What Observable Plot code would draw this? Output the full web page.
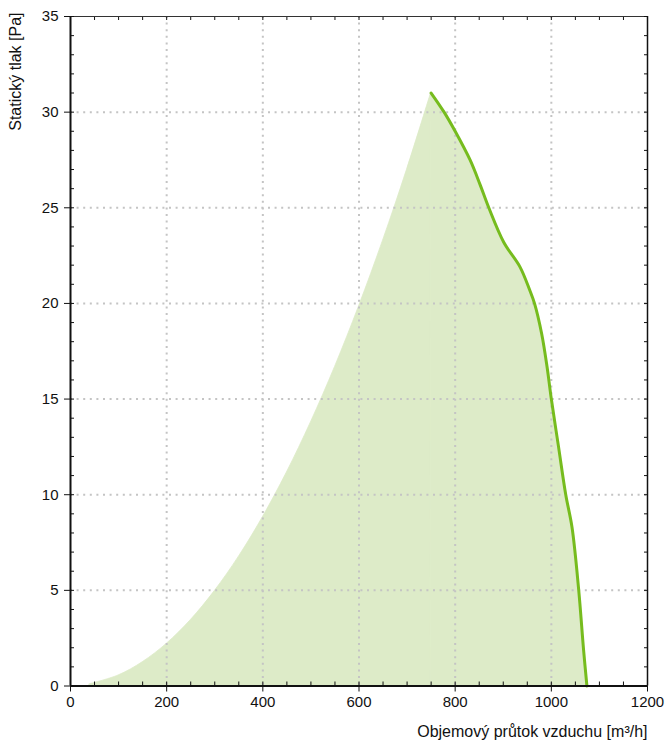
<!DOCTYPE html>
<html>
<head>
<meta charset="utf-8">
<script src="https://cdn.jsdelivr.net/npm/d3@7"></script>
<script src="https://cdn.jsdelivr.net/npm/@observablehq/plot@0.6"></script>
<style>
  html, body { margin: 0; padding: 0; background: #fff; }
</style>
</head>
<body>
<div id="chart"></div>
<script>
// Axis ticks
const xTicks = [0, 200, 400, 600, 800, 1000, 1200];
const yTicks = [0, 5, 10, 15, 20, 25, 30, 35];
const xGrid = [200, 400, 600, 800, 1000];
const yGrid = [5, 10, 15, 20, 25, 30];
const xMinor = [0,50,100,150,200,250,300,350,400,450,500,550,600,650,700,750,800,850,900,950,1000,1050,1100,1150,1200];
const yMinor = [0,1,2,3,4,5,6,7,8,9,10,11,12,13,14,15,16,17,18,19,20,21,22,23,24,25,26,27,28,29,30,31,32,33,34,35];

// Axis titles
const xTitle = "Objemový průtok vzduchu [m³/h]";
const yTitle = "Statický tlak [Pa]";

// System curve (left edge of the shaded working area)
const sysFlow     = [40, 100, 150, 200, 250, 300, 350, 400, 450, 500, 550, 600, 650, 700, 750];
const sysPressure = [0.09, 0.55, 1.24, 2.2, 3.44, 4.96, 6.75, 8.82, 11.16, 13.78, 16.67, 19.84, 23.28, 27.0, 31.0];

// Fan curve (green line)
const fanFlow     = [750, 777, 800, 831, 852, 870, 901, 935, 955, 965, 980, 991, 1000, 1015, 1030, 1043, 1057, 1067, 1074];
const fanPressure = [31.0, 30.0, 29.0, 27.5, 26.2, 25.0, 23.2, 21.9, 20.7, 20.0, 18.4, 16.7, 15.0, 12.5, 10.0, 8.3, 5.0, 1.9, 0];

const sys = sysFlow.map((x, i) => ({x, y: sysPressure[i]}));
const fan = fanFlow.map((x, i) => ({x, y: fanPressure[i]}));

const fillColor = "#ddebc8";
const lineColor = "#76bc1e";
const gridStyle = {stroke: "#c4c4c4", strokeWidth: 2, strokeDasharray: "2,4.6"};

const chart = Plot.plot({
  width: 665,
  height: 742,
  marginLeft: 70,
  marginRight: 18,
  marginTop: 16,
  marginBottom: 56.5,
  style: {fontFamily: "'Liberation Sans', Arial, sans-serif", fontSize: "15px", color: "#111", background: "#fff"},
  x: {domain: [0, 1200]},
  y: {domain: [0, 35]},
  marks: [
    Plot.areaY(sys, {x: "x", y: "y", fill: fillColor, stroke: fillColor, strokeWidth: 0.8, curve: "catmull-rom"}),
    Plot.areaY(fan, {x: "x", y: "y", fill: fillColor, stroke: fillColor, strokeWidth: 0.8, curve: "catmull-rom"}),
    Plot.ruleX(xGrid, gridStyle),
    Plot.ruleY(yGrid, gridStyle),
    Plot.line(fan, {x: "x", y: "y", stroke: lineColor, strokeWidth: 3, curve: "catmull-rom"}),
    // frame
    Plot.ruleX([0], {stroke: "#111", strokeWidth: 2}),
    Plot.ruleY([0], {stroke: "#111", strokeWidth: 2}),
    Plot.ruleX([1200], {stroke: "#111", strokeWidth: 1.5}),
    Plot.ruleY([35], {stroke: "#333", strokeWidth: 1}),
    // minor ticks pointing inward
    Plot.axisX({anchor: "bottom", ticks: xMinor, tickSize: 4, dy: -4, text: null, label: null, stroke: "#111"}),
    Plot.axisX({anchor: "top", ticks: xMinor, tickSize: 3, dy: 3, text: null, label: null, stroke: "#111"}),
    Plot.axisY({anchor: "left", ticks: yMinor, tickSize: 4, dx: 4, text: null, label: null, stroke: "#111"}),
    Plot.axisY({anchor: "right", ticks: yMinor, tickSize: 4, dx: -4, text: null, label: null, stroke: "#111"}),
    // major ticks + labels
    Plot.axisX({anchor: "bottom", ticks: xTicks, tickSize: 6, tickPadding: 4, tickFormat: d => String(d),
      label: null, stroke: "#111", fill: "#111"}),
    Plot.axisY({anchor: "left", ticks: yTicks, tickSize: 6, tickPadding: 6, tickFormat: d => String(d),
      label: null, stroke: "#111", fill: "#111"}),
    // axis titles
    Plot.text([xTitle], {text: d => d, frameAnchor: "bottom-right", textAnchor: "end", lineAnchor: "middle",
      dy: 46, fontSize: 16, fill: "#111"}),
    Plot.text([yTitle], {text: d => d, frameAnchor: "top-left", rotate: -90, textAnchor: "end", lineAnchor: "middle",
      dx: -55, dy: -4, fontSize: 16, fill: "#111"})
  ]
});
document.getElementById("chart").appendChild(chart);
</script>
</body>
</html>
